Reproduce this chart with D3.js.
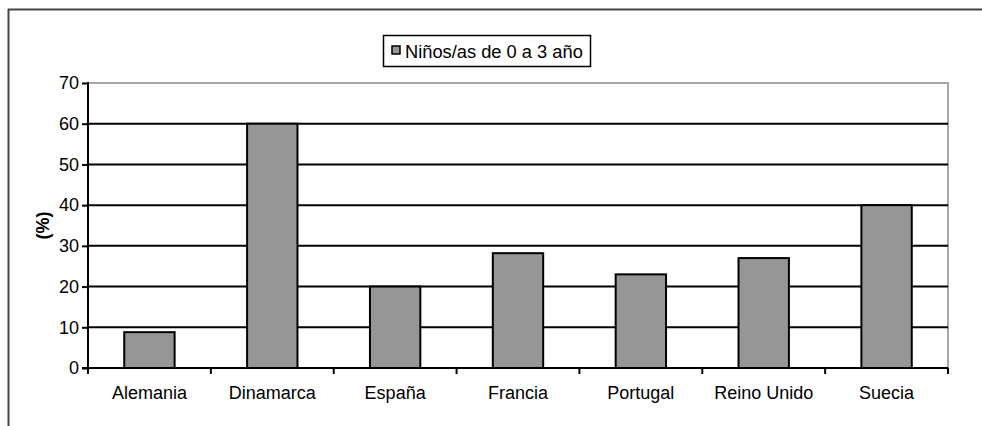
<!DOCTYPE html>
<html><head><meta charset="utf-8">
<script src="https://cdn.jsdelivr.net/npm/d3@7/dist/d3.min.js"></script>
<style>html,body{margin:0;background:#fff;overflow:hidden}svg{display:block}text{font-family:"Liberation Sans",Arial,sans-serif}</style>
</head><body>
<svg id="c" width="982" height="426"></svg>
<script>
const categories = ["Alemania","Dinamarca","España","Francia","Portugal","Reino Unido","Suecia"];
const values = [8.8, 60, 20, 28.2, 23, 27, 40];
const yTicks = [0,10,20,30,40,50,60,70];
const seriesName = "Niños/as de 0 a 3 año";

const svg = d3.select("#c");
const L = 88, R = 948, T = 83, B = 368;

// outer frame (left and top edges only visible)
svg.append("line").attr("x1",8.5).attr("x2",8.5).attr("y1",9).attr("y2",426).attr("stroke","#444").attr("stroke-width",2);
svg.append("line").attr("x1",8).attr("x2",982).attr("y1",9.5).attr("y2",9.5).attr("stroke","#444").attr("stroke-width",2);

const x = d3.scaleBand().domain(categories).range([L, R]).paddingInner(0.59).paddingOuter(0.295);
const y = d3.scaleLinear().domain([0, 70]).range([B, T]);

// plot border (gray top/right)
svg.append("path").attr("d", `M${L},${T} H${R} V${B}`).attr("fill","none").attr("stroke","#a8a8a8").attr("stroke-width",2);

// gridlines
svg.append("g").selectAll("line").data(yTicks.filter(d => d > 0 && d < 70)).join("line")
  .attr("x1", L).attr("x2", R).attr("y1", d => y(d)).attr("y2", d => y(d))
  .attr("stroke","#000").attr("stroke-width",2);

// bars
svg.append("g").selectAll("rect").data(values).join("rect")
  .attr("x", (d,i) => x(categories[i])).attr("width", x.bandwidth())
  .attr("y", d => y(d)).attr("height", d => y(0) - y(d))
  .attr("fill","#969696").attr("stroke","#000").attr("stroke-width",2);

// y axis
const ya = svg.append("g").attr("transform", `translate(${L},0)`)
  .call(d3.axisLeft(y).tickValues(yTicks).tickSize(6).tickPadding(3).tickFormat(d3.format("d")));
ya.select(".domain").attr("stroke","#000").attr("stroke-width",2).attr("d", `M0,${T-1}V${B}`);
ya.selectAll(".tick line").attr("stroke","#000").attr("stroke-width",2);
ya.selectAll("text").attr("font-size",18).attr("fill","#000").attr("font-family","Liberation Sans, Arial, sans-serif");

// x axis
const xa = svg.append("g").attr("transform", `translate(0,${B})`);
xa.append("line").attr("x1", L-6).attr("x2", R).attr("stroke","#000").attr("stroke-width",2);
const step = x.step();
const bounds = d3.range(categories.length + 1).map(i => L + i * step);
xa.selectAll("line.tk").data(bounds).join("line").attr("class","tk")
  .attr("x1", d => d).attr("x2", d => d).attr("y1", 0).attr("y2", 6)
  .attr("stroke","#000").attr("stroke-width",2);
xa.selectAll("text").data(categories).join("text")
  .attr("x", d => x(d) + x.bandwidth()/2).attr("y", 31)
  .attr("text-anchor","middle").attr("font-size",18).attr("fill","#000").text(d => d);

// y label
svg.append("text").attr("transform", `translate(49,${(T+B)/2}) rotate(-90)`)
  .attr("text-anchor","middle").attr("font-size",18).attr("font-weight","bold").text("(%)");

// legend
const lg = svg.append("g");
lg.append("rect").attr("x",383.5).attr("y",35.5).attr("width",207).attr("height",31)
  .attr("fill","#fff").attr("stroke","#000").attr("stroke-width",1.5);
lg.append("rect").attr("x",392).attr("y",46).attr("width",8).attr("height",8)
  .attr("fill","#969696").attr("stroke","#000").attr("stroke-width",1.5);
lg.append("text").attr("x",405).attr("y",58).attr("font-size",18.3).attr("fill","#000").text(seriesName);
</script>
</body></html>
